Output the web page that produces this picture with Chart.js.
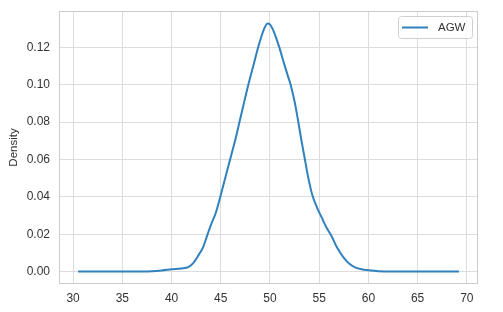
<!DOCTYPE html>
<html>
<head>
<meta charset="utf-8">
<script src="https://cdn.jsdelivr.net/npm/chart.js@4"></script>
<style>
  html, body { margin: 0; padding: 0; background: #fff; }
  #chart { display: block; }
</style>
</head>
<body>
<canvas id="chart" width="503" height="312"></canvas>
<script>
// KDE of AGW
const seriesLabel = 'AGW';
const xValues = [
  30.5, 33, 36, 38, 39, 40, 41, 41.7, 42.2, 42.7, 43.2, 43.6, 44.0, 44.5, 44.9,
  45.4, 45.9, 46.2, 46.5, 46.9, 47.3, 47.8, 48.3, 48.8, 49.2, 49.5, 49.75, 50.0,
  50.3, 50.6, 50.95, 51.45, 51.8, 52.1, 52.5, 52.85, 53.2, 53.55, 53.9,
  54.3, 54.8, 55.25, 55.7, 56.25, 56.8, 57.45, 58.0, 58.65, 59.3, 60, 61, 62, 65, 69.2
];
const densityValues = [
  0, 0, 0, 0.0002, 0.0006, 0.0012, 0.0017, 0.0024, 0.0045, 0.0085, 0.013, 0.019, 0.025, 0.0315, 0.039,
  0.049, 0.059, 0.065, 0.071, 0.080, 0.089, 0.100, 0.110, 0.120, 0.127, 0.131, 0.1328, 0.1323,
  0.1295, 0.1255, 0.120, 0.111, 0.105, 0.100, 0.091, 0.081, 0.070, 0.060, 0.050,
  0.041, 0.034, 0.029, 0.024, 0.019, 0.013, 0.0077, 0.0045, 0.0023, 0.0012, 0.0007, 0.0002, 0.0001, 0, 0
];
const xTicks = [30, 35, 40, 45, 50, 55, 60, 65, 70];
const yTicks = [0, 0.02, 0.04, 0.06, 0.08, 0.10, 0.12];

const FONT = '"Liberation Sans", Arial, sans-serif';
const GRID = '#dcdcdc';
const TEXT = '#333333';
const LINE = '#3081bd';

// matplotlib-style 5% margins around the data
const xPad = (Math.max(...xValues) - Math.min(...xValues)) * 0.05;
const yPad = (Math.max(...densityValues) - Math.min(...densityValues)) * 0.05;

const frameAndLegend = {
  id: 'frameAndLegend',
  beforeDatasetsDraw(chart) {
    const { ctx, chartArea: a } = chart;
    ctx.save();
    ctx.strokeStyle = '#cccccc';
    ctx.lineWidth = 1;
    ctx.strokeRect(Math.round(a.left) + 0.5, Math.round(a.top) + 0.5,
      Math.round(a.right - a.left) - 1, Math.round(a.bottom - a.top) - 1);
    ctx.restore();
  },
  afterDraw(chart) {
    const { ctx, chartArea: a } = chart;
    const ds = chart.data.datasets[0];
    const w = 74, h = 22;
    const x = a.right - 6 - w, y = a.top + 5;
    ctx.save();
    ctx.beginPath();
    ctx.roundRect(x + 0.5, y + 0.5, w, h, 3);
    ctx.fillStyle = 'rgba(255,255,255,0.8)';
    ctx.fill();
    ctx.strokeStyle = '#d0d0d0';
    ctx.stroke();
    ctx.beginPath();
    ctx.moveTo(x + 4, y + 11.5);
    ctx.lineTo(x + 30, y + 11.5);
    ctx.strokeStyle = ds.borderColor;
    ctx.lineWidth = 2;
    ctx.stroke();
    ctx.fillStyle = TEXT;
    ctx.font = '11.5px ' + FONT;
    ctx.textBaseline = 'middle';
    ctx.fillText(ds.label, x + 40, y + 12);
    ctx.restore();
  }
};

new Chart(document.getElementById('chart'), {
  type: 'line',
  data: {
    datasets: [{
      label: seriesLabel,
      data: xValues.map((x, i) => ({ x, y: densityValues[i] })),
      borderColor: LINE,
      borderWidth: 2,
      pointRadius: 0,
      fill: false,
      cubicInterpolationMode: 'monotone'
    }]
  },
  options: {
    responsive: false,
    animation: false,
    layout: { padding: { top: 11, right: 25, left: 0, bottom: 0 } },
    plugins: { legend: { display: false }, tooltip: { enabled: false } },
    scales: {
      x: {
        type: 'linear',
        min: Math.min(...xValues) - xPad,
        max: Math.max(...xValues) + xPad,
        afterBuildTicks: s => { s.ticks = xTicks.map(v => ({ value: v })); },
        afterFit: s => { s.height = 28; s.paddingLeft = 0; s.paddingRight = 0; },
        ticks: { color: TEXT, font: { family: FONT, size: 12 }, padding: 7, maxRotation: 0 },
        grid: { color: GRID, drawTicks: false },
        border: { display: false }
      },
      y: {
        min: Math.min(...densityValues) - yPad,
        max: Math.max(...densityValues) + yPad,
        afterBuildTicks: s => { s.ticks = yTicks.map(v => ({ value: v })); },
        afterFit: s => { s.width = 59; s.paddingTop = 0; s.paddingBottom = 0; },
        ticks: { color: TEXT, font: { family: FONT, size: 12 }, padding: 9,
          callback: v => Number(v).toFixed(2) },
        grid: { color: GRID, drawTicks: false },
        border: { display: false },
        title: { display: true, text: 'Density', color: TEXT,
          font: { family: FONT, size: 11.5 }, padding: { top: 7, bottom: 0 } }
      }
    }
  },
  plugins: [frameAndLegend]
});
</script>
</body>
</html>
